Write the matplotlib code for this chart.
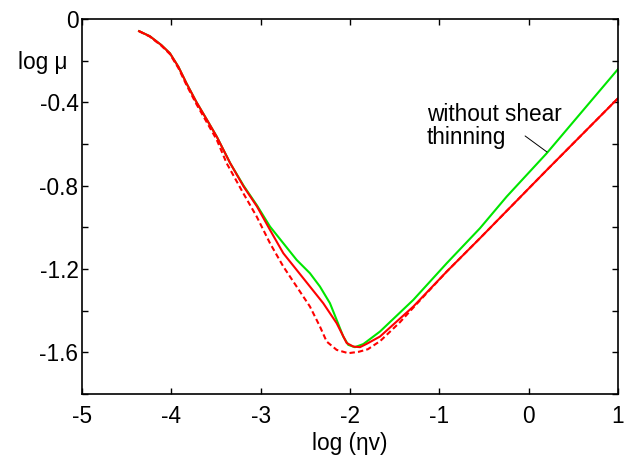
import matplotlib
matplotlib.use("Agg")
import matplotlib.pyplot as plt

plt.rcParams['font.family'] = ['Liberation Sans', 'DejaVu Sans']
plt.rcParams['axes.unicode_minus'] = False

# "without shear thinning" curve (green)
x_green = [-4.36, -4.24, -4.11, -4.015, -3.92, -3.83, -3.72, -3.60, -3.49, -3.34,
           -3.19, -3.04, -2.895, -2.746, -2.597, -2.448, -2.336, -2.224, -2.149,
           -2.075, -2.019, -1.944, -1.85, -1.664, -1.291, -0.917, -0.545, -0.246,
           0.202, 1.0]
y_green = [-0.058, -0.082, -0.125, -0.164, -0.229, -0.308, -0.397, -0.484, -0.565, -0.692,
           -0.800, -0.895, -0.996, -1.076, -1.156, -1.220, -1.284, -1.364, -1.444,
           -1.524, -1.564, -1.575, -1.560, -1.500, -1.348, -1.172, -1.004, -0.852,
           -0.644, -0.24]

# shear thinning, solid red
x_red = [-4.36, -4.24, -4.11, -4.015, -3.92, -3.83, -3.72, -3.60, -3.49, -3.34,
         -3.19, -3.04, -2.895, -2.746, -2.597, -2.448, -2.299, -2.149, -2.037,
         -1.963, -1.888, -1.813, -1.664, -1.291, -0.917, -0.545, 0.202, 1.0]
y_red = [-0.058, -0.082, -0.125, -0.164, -0.229, -0.308, -0.397, -0.484, -0.565, -0.692,
         -0.804, -0.900, -1.012, -1.124, -1.204, -1.284, -1.364, -1.460, -1.555,
         -1.572, -1.575, -1.559, -1.524, -1.380, -1.212, -1.052, -0.725, -0.38]

# shear thinning, dashed red
x_dash = [-4.36, -4.24, -4.11, -4.015, -3.92, -3.83, -3.72, -3.60, -3.49, -3.38,
          -3.194, -3.044, -2.895, -2.746, -2.597, -2.448, -2.336, -2.261, -2.149,
          -2.019, -1.90, -1.80, -1.66, -1.44, -1.291, -0.917, -0.545, 0.202, 1.0]
y_dash = [-0.058, -0.084, -0.128, -0.168, -0.235, -0.316, -0.407, -0.497, -0.58, -0.692,
          -0.836, -0.948, -1.076, -1.188, -1.284, -1.380, -1.476, -1.548, -1.588,
          -1.604, -1.597, -1.585, -1.545, -1.455, -1.385, -1.212, -1.052, -0.725, -0.38]

xticks = [-5, -4, -3, -2, -1, 0, 1]
xtick_labels = ['-5', '-4', '-3', '-2', '-1', '0', '1']
yticks = [0, -0.2, -0.4, -0.6, -0.8, -1.0, -1.2, -1.4, -1.6, -1.8]
ytick_labels = ['0', '', '-0.4', '', '-0.8', '', '-1.2', '', '-1.6', '']

FS = 16.3

fig = plt.figure(figsize=(6.3, 4.55), dpi=100)
ax = fig.add_axes([0.130, 0.134, 0.851, 0.824])

ax.plot(x_green, y_green, color='#00e600', lw=1.5)
ax.plot(x_dash, y_dash, color='#ff0000', lw=1.5, ls=(0, (2.6, 1.5)))
ax.plot(x_red, y_red, color='#ff0000', lw=1.5)

ax.set_xlim(-5, 1)
ax.set_ylim(-1.8, 0)
ax.set_xticks(xticks)
ax.set_xticklabels(xtick_labels)
ax.set_yticks(yticks)
ax.set_yticklabels(ytick_labels)
ax.tick_params(direction='in', length=4, width=1, top=True, right=True,
               labelsize=FS)
ax.tick_params(axis='x', pad=8)
ax.tick_params(axis='y', pad=2.5)
for s in ax.spines.values():
    s.set_linewidth(1.2)

ax.set_xlabel('log (ηv)', fontsize=FS, labelpad=3)
ax.set_ylabel('log μ', fontsize=FS, rotation=0, ha='right', va='center')
ax.yaxis.set_label_coords(-0.026, 0.885)

ax.text(-1.14, -0.513, 'without shear\nthinning', ha='left', va='center',
        fontsize=FS, linespacing=1.0)
ax.annotate('', xy=(0.205, -0.638), xytext=(-0.04, -0.561),
            arrowprops=dict(arrowstyle='-', lw=0.7, color='black',
                            shrinkA=0, shrinkB=0))

fig.savefig('out.png', dpi=100)
